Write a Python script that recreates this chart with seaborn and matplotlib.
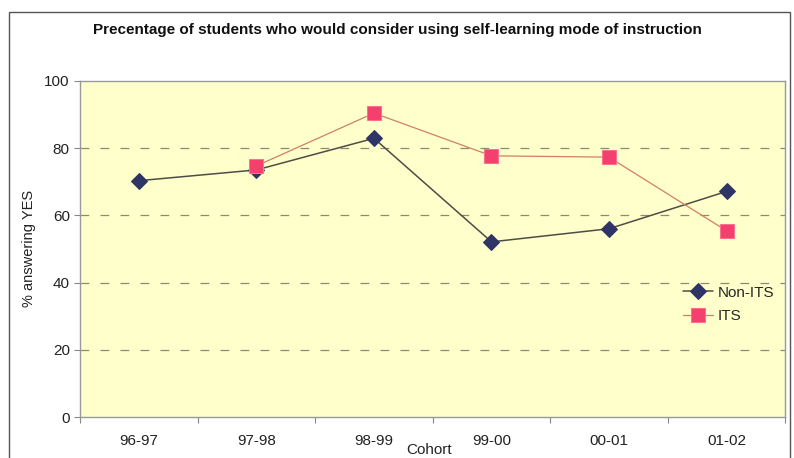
import matplotlib.pyplot as plt
import seaborn as sns
import numpy as np
import pandas as pd

cohorts = ['96-97', '97-98', '98-99', '99-00', '00-01', '01-02']
non_its = [70.3, 73.5, 82.9, 52.1, 56.0, 67.1]
its = [np.nan, 74.7, 90.4, 77.7, 77.3, 55.4]

sns.set_style('white')
plt.rcParams['font.family'] = ['Liberation Sans', 'DejaVu Sans']

fig = plt.figure(figsize=(7.94, 4.58), dpi=100)
ax = fig.add_axes([0.101, 0.0895, 0.888, 0.734])
ax.set_facecolor('#ffffcc')

df = pd.DataFrame({'pos': np.arange(len(cohorts)), 'Non-ITS': non_its, 'ITS': its})

sns.lineplot(data=df, x='pos', y='Non-ITS', ax=ax, color='#4d4d45', lw=1.1,
             marker='D', markersize=8, markerfacecolor='#2e3566',
             markeredgecolor='#2e3566', label='Non-ITS')
sns.lineplot(data=df.dropna(), x='pos', y='ITS', ax=ax, color='#d08060', lw=0.9,
             marker='s', markersize=10, markerfacecolor='#f5406e',
             markeredgecolor='#ff6f8f', label='ITS')

ax.set_xlim(-0.5, len(cohorts) - 0.5)
ax.set_ylim(0, 100)
ax.set_yticks([0, 20, 40, 60, 80, 100])
ax.set_xticks(np.arange(-0.5, len(cohorts), 1), minor=False)
ax.set_xticklabels([])
ax.set_xticks(np.arange(len(cohorts)), minor=True)
ax.set_xticklabels(cohorts, minor=True)
ax.tick_params(axis='x', which='minor', length=0, pad=12, labelsize=11, colors='#222222')
ax.tick_params(axis='x', which='major', length=4, direction='out', color='#888888')
ax.tick_params(axis='y', length=4, direction='out', color='#888888', labelsize=11, colors='#222222')
ax.tick_params(bottom=True, left=True, which='both')

for y in [20, 40, 60, 80]:
    ax.axhline(y, color='#8a8a70', ls=(0, (7, 9)), lw=0.9, zorder=0)

for s in ax.spines.values():
    s.set_color('#999999')
    s.set_linewidth(1)

ax.set_xlabel('Cohort', fontsize=11, color='#222222', va='center')
ax.xaxis.set_label_coords(0.495, -0.097)
ax.set_ylabel('% answering YES', fontsize=10.5, color='#222222', labelpad=6)

fig.suptitle('Precentage of students who would consider using self-learning mode of instruction',
             x=0.5, y=0.95, fontsize=11, fontweight='bold', color='#111111')

ax.legend(loc='center left', bbox_to_anchor=(0.835, 0.335), frameon=False,
          fontsize=11, handlelength=2.0, handletextpad=0.3, labelspacing=0.6)

fig.patches.append(plt.Rectangle((0.011, -0.05), 0.984, 1.024, transform=fig.transFigure,
                                 fill=False, edgecolor='#555555', lw=1))

fig.savefig('out.png', dpi=100)
